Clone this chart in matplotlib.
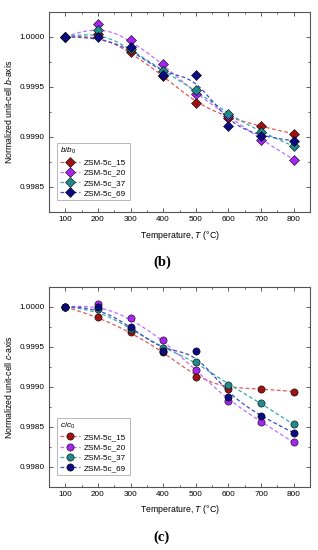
import numpy as np
import matplotlib
matplotlib.use("Agg")
import matplotlib.pyplot as plt

plt.rcParams['font.family'] = ['Liberation Sans', 'DejaVu Sans']
plt.rcParams['mathtext.fontset'] = 'custom'
plt.rcParams['mathtext.rm'] = 'Liberation Sans'
plt.rcParams['mathtext.it'] = 'Liberation Sans:italic'

temperature = [100, 200, 300, 400, 500, 600, 700, 800]
samples = ['ZSM-5c_15', 'ZSM-5c_20', 'ZSM-5c_37', 'ZSM-5c_69']

b_15 = [1.0000, 1.000028, 0.999848, 0.999612, 0.999338, 0.999192, 0.999105, 0.999032]
b_20 = [1.0000, 1.000128, 0.999972, 0.999725, 0.999432, 0.999215, 0.998972, 0.998775]
b_37 = [1.0000, 1.000065, 0.999878, 0.999662, 0.999465, 0.999225, 0.999048, 0.998908]
b_69 = [1.0000, 1.000000, 0.999895, 0.999618, 0.999615, 0.999105, 0.999005, 0.998962]

c_15 = [1.0000, 0.999879, 0.999683, 0.999440, 0.999125, 0.998971, 0.998979, 0.998941]
c_20 = [1.0000, 1.000034, 0.999859, 0.999584, 0.999209, 0.998825, 0.998563, 0.998304]
c_37 = [1.0000, 0.999971, 0.999725, 0.999488, 0.999316, 0.999025, 0.998796, 0.998529]
c_69 = [1.0000, 1.000005, 0.999754, 0.999446, 0.999446, 0.998879, 0.998629, 0.998425]

marker_colors = ['#A01212', '#A626F0', '#1E8C8A', '#0C0C82']
line_colors = ['#E05A5A', '#C070FF', '#3AAAA8', '#3A4CC8']


def bspline(xs, ys, k=3, num=300):
    P = np.column_stack([xs, ys]).astype(float)
    n = len(P)
    m = n - k
    t = np.concatenate([np.zeros(k), np.arange(m + 1), np.full(k, m)]).astype(float)
    u = np.linspace(0, m, num)
    u[-1] -= 1e-9
    # degree 0
    N = np.zeros((num, len(t) - 1))
    for i in range(len(t) - 1):
        N[:, i] = ((u >= t[i]) & (u < t[i + 1])).astype(float)
    for d in range(1, k + 1):
        Nn = np.zeros((num, len(t) - 1 - d))
        for i in range(len(t) - 1 - d):
            a = 0.0
            den1 = t[i + d] - t[i]
            den2 = t[i + d + 1] - t[i + 1]
            term = np.zeros(num)
            if den1 > 0:
                term += (u - t[i]) / den1 * N[:, i]
            if den2 > 0:
                term += (t[i + d + 1] - u) / den2 * N[:, i + 1]
            Nn[:, i] = term
        N = Nn
    C = N @ P
    return C[:, 0], C[:, 1]


fig = plt.figure(figsize=(3.18, 5.5), dpi=100)

W, H = 318, 550
ax_b = fig.add_axes([49 / W, (H - 212) / H, 261 / W, 200 / H])
ax_c = fig.add_axes([49 / W, (H - 486.7) / H, 261 / W, 200 / H])

panels = [
    (ax_b, [b_15, b_20, b_37, b_69], 'D', 'Normalized unit-cell $b$-axis', '$b/b_0$',
     (0.99825, 1.000245), [0.9985, 0.9990, 0.9995, 1.0000], '(b)', 262),
    (ax_c, [c_15, c_20, c_37, c_69], 'o', 'Normalized unit-cell $c$-axis', '$c/c_0$',
     (0.99775, 1.000254), [0.9980, 0.9985, 0.9990, 0.9995, 1.0000], '(c)', 537),
]

fs = 5.9
for ax, series, mk, ylabel, ltitle, ylim, yticks, tag, tag_y in panels:
    handles = []
    for vals, mc, lc, name in zip(series, marker_colors, line_colors, samples):
        sx, sy = bspline(temperature, vals)
        ax.plot(sx, sy, color=lc, lw=0.9, ls=(0, (3, 2)), zorder=2)
        ax.plot(temperature, vals, ls='none', marker=mk, ms=5.0 if mk == 'D' else 5.2,
                mfc=mc, mec='black', mew=0.4, zorder=3)
        h, = ax.plot([], [], color=lc, lw=0.9, ls=(0, (3, 2)), marker=mk,
                     ms=5.0 if mk == 'D' else 5.2, mfc=mc, mec='black', mew=0.4)
        handles.append(h)
    ax.set_xlim(50, 850)
    ax.set_ylim(*ylim)
    ax.set_xticks([100, 200, 300, 400, 500, 600, 700, 800])
    ax.set_xticks(np.arange(50, 851, 50), minor=True)
    ax.set_yticks(yticks)
    ax.set_yticks(np.arange(yticks[0] - 0.00025, 1.00026, 0.00025), minor=True)
    ax.set_yticklabels([f'{v:.4f}' for v in yticks])
    ax.tick_params(which='both', direction='in', top=True, right=True,
                   labelsize=fs, color='#444444', width=0.6, pad=3)
    ax.tick_params(which='major', length=3)
    ax.tick_params(which='minor', length=1.6)
    for sp in ax.spines.values():
        sp.set_color('#555555')
        sp.set_linewidth(0.8)
    ax.set_xlabel('Temperature, $T$ (°C)', fontsize=6.3, labelpad=4)
    ax.set_ylabel(ylabel, fontsize=6.3, labelpad=4)
    leg = ax.legend(handles, samples, title=ltitle, loc='lower left',
                    bbox_to_anchor=(0.025, 0.05), fontsize=fs, title_fontsize=fs,
                    frameon=True, fancybox=False, edgecolor='#999999',
                    handlelength=2.4, handletextpad=0.5, labelspacing=0.3,
                    borderpad=0.4, borderaxespad=0.2)
    leg.get_frame().set_linewidth(0.6)
    leg._legend_box.align = 'left'
    fig.text(162 / W, 1 - tag_y / H, tag, ha='center', va='center',
             fontsize=10.5, family='Liberation Serif', fontweight='bold')

fig.savefig('out.png', dpi=100)
